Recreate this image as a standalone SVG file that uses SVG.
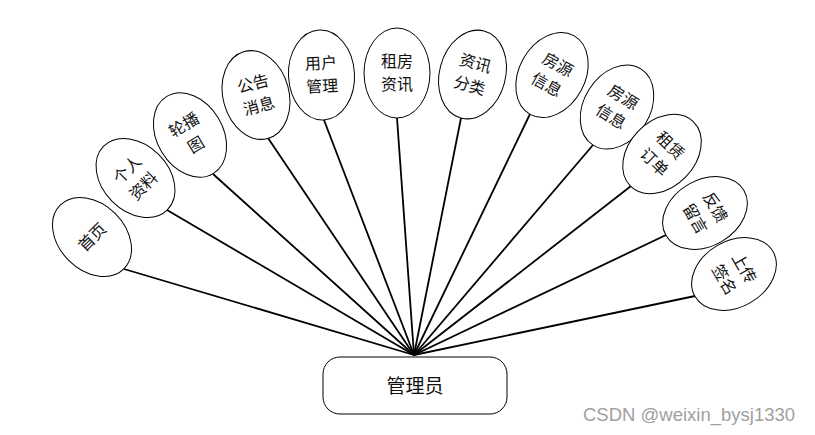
<svg xmlns="http://www.w3.org/2000/svg" width="815" height="435" viewBox="0 0 815 435">
<style>
  .node ellipse { fill: #fff; stroke: #000; stroke-width: 1; }
  .node text { font-family: "Noto Sans CJK SC", "Liberation Sans", sans-serif; font-size: 16px; fill: #111; text-anchor: middle; }
  .conn line { stroke: #000; stroke-width: 1.8; }
  .hub rect { fill: #fff; stroke: #000; stroke-width: 1; }
  .hub text { font-family: "Noto Sans CJK SC", "Liberation Sans", sans-serif; font-size: 19px; fill: #111; text-anchor: middle; }
  .wm { font-family: "Liberation Sans", "Noto Sans", sans-serif; font-size: 18.5px; fill: #a0a0a0; }
</style>
<rect width="815" height="435" fill="#fff"/>
<g id="connectors" class="conn">
  <line x1="124" y1="269" x2="414" y2="355"/>
  <line x1="167" y1="210" x2="414" y2="355"/>
  <line x1="213" y1="174" x2="414" y2="355"/>
  <line x1="268" y1="138" x2="414" y2="355"/>
  <line x1="324" y1="120" x2="414" y2="355"/>
  <line x1="397" y1="118" x2="414" y2="355"/>
  <line x1="461" y1="118" x2="414" y2="355"/>
  <line x1="530" y1="114" x2="414" y2="355"/>
  <line x1="593" y1="145" x2="414" y2="355"/>
  <line x1="631" y1="186" x2="414" y2="355"/>
  <line x1="666" y1="235" x2="414" y2="355"/>
  <line x1="695" y1="296" x2="414" y2="355"/>
</g>
<g id="n1" class="node" transform="translate(92,237) rotate(-45)">
  <ellipse rx="33" ry="45"/>
  <text y="6">首页</text>
</g>
<g id="n2" class="node" transform="translate(135.5,178) rotate(-45)">
  <ellipse rx="33" ry="45"/>
  <text y="-6">个人</text>
  <text y="17">资料</text>
</g>
<g id="n3" class="node" transform="translate(190,135) rotate(-31)">
  <ellipse rx="33" ry="45"/>
  <text y="-6">轮播</text>
  <text y="17">图</text>
</g>
<g id="n4" class="node" transform="translate(256,95) rotate(-15)">
  <ellipse rx="33" ry="45"/>
  <text y="-6">公告</text>
  <text y="17">消息</text>
</g>
<g id="n5" class="node" transform="translate(321.5,75) rotate(-3)">
  <ellipse rx="33" ry="45"/>
  <text y="-6">用户</text>
  <text y="17">管理</text>
</g>
<g id="n6" class="node" transform="translate(397,73)">
  <ellipse rx="33" ry="45"/>
  <text y="-6">租房</text>
  <text y="17">资讯</text>
</g>
<g id="n7" class="node" transform="translate(472.5,74.5) rotate(15)">
  <ellipse rx="33" ry="45"/>
  <text y="-6">资讯</text>
  <text y="17">分类</text>
</g>
<g id="n8" class="node" transform="translate(552,75) rotate(29)">
  <ellipse rx="33" ry="45"/>
  <text y="-6">房源</text>
  <text y="17">信息</text>
</g>
<g id="n9" class="node" transform="translate(617,107) rotate(32)">
  <ellipse rx="33" ry="45"/>
  <text y="-6">房源</text>
  <text y="17">信息</text>
</g>
<g id="n10" class="node" transform="translate(662,154) rotate(44)">
  <ellipse rx="33" ry="45"/>
  <text y="-6">租赁</text>
  <text y="17">订单</text>
</g>
<g id="n11" class="node" transform="translate(705,213) rotate(60)">
  <ellipse rx="33" ry="45"/>
  <text y="-6">反馈</text>
  <text y="17">留言</text>
</g>
<g id="n12" class="node" transform="translate(734,274) rotate(60)">
  <ellipse rx="33" ry="45"/>
  <text y="-6">上传</text>
  <text y="17">签名</text>
</g>
<g id="hub" class="hub">
  <rect x="323" y="357" width="184" height="57" rx="17"/>
  <text x="415" y="393">管理员</text>
</g>
<text class="wm" x="583" y="421">CSDN @weixin_bysj1330</text>
</svg>
